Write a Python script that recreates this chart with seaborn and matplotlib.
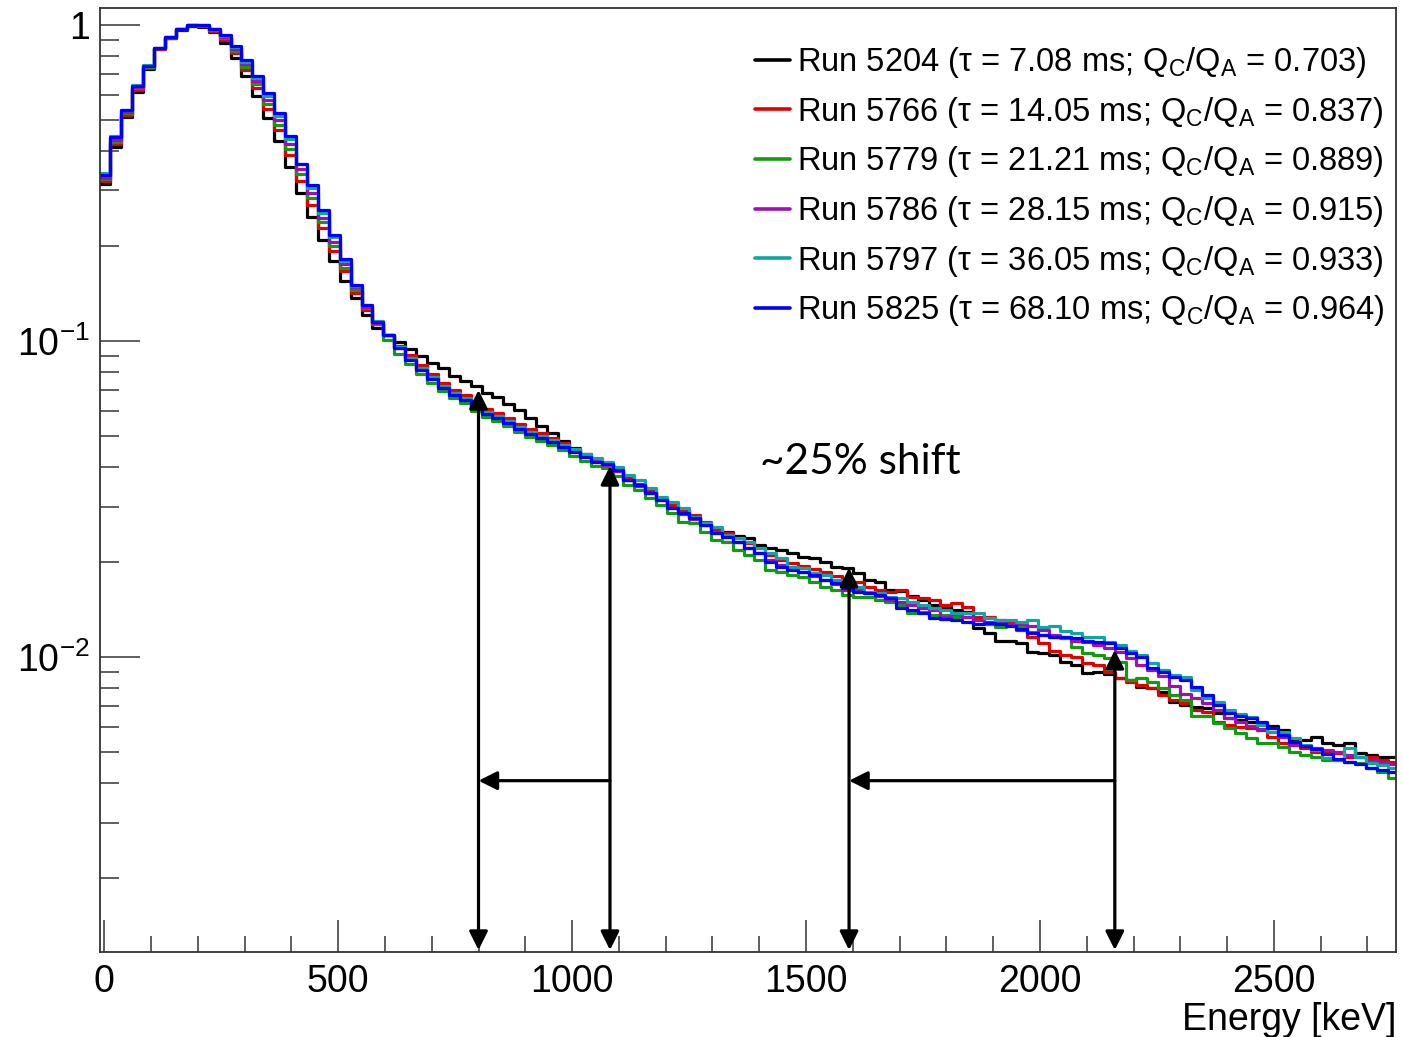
import numpy as np
import pandas as pd
import matplotlib
matplotlib.use("Agg")
import matplotlib.pyplot as plt
from matplotlib.lines import Line2D
from matplotlib.ticker import MultipleLocator, LogLocator, FixedLocator, FixedFormatter, NullFormatter
import seaborn as sns

# ---------------- data (normalised spectra, 23.33 keV bins starting at -10 keV) ----------------
bin_low = -10.0
bin_width = 23.33

run_5204 = [
    0.315, 0.412, 0.513, 0.615, 0.727, 0.841, 0.912, 0.966, 0.995, 0.988,
    0.952, 0.879, 0.788, 0.691, 0.598, 0.509, 0.430, 0.356, 0.295, 0.248,
    0.209, 0.180, 0.155, 0.137, 0.121, 0.110, 0.105, 0.0995, 0.0945, 0.0899,
    0.0854, 0.0823, 0.0777, 0.0749, 0.0722, 0.0686, 0.0666, 0.0633, 0.0606, 0.0572,
    0.0540, 0.0513, 0.0484, 0.0460, 0.0440, 0.0418, 0.0409, 0.0389, 0.0364, 0.0351,
    0.0333, 0.0319, 0.0303, 0.0290, 0.0278, 0.0266, 0.0255, 0.0249, 0.0242, 0.0239,
    0.0227, 0.0222, 0.0219, 0.0214, 0.0208, 0.0206, 0.0200, 0.0193, 0.0192, 0.0185,
    0.0176, 0.0173, 0.0163, 0.0162, 0.0156, 0.0152, 0.0146, 0.0144, 0.0141, 0.0139,
    0.0124, 0.0119, 0.0113, 0.0113, 0.0111, 0.0104, 0.0103, 0.0102, 0.00966, 0.00945,
    0.00892, 0.00899, 0.00885, 0.00860, 0.00848, 0.00805, 0.00800, 0.00777, 0.00722, 0.00706,
    0.00696, 0.00691, 0.00666, 0.00643, 0.00633, 0.00624, 0.00615, 0.00606, 0.00589, 0.00547,
    0.00547, 0.00560, 0.00536, 0.00528, 0.00536, 0.00498, 0.00491, 0.00484, 0.00484]

run_5766 = [
    0.322, 0.421, 0.520, 0.624, 0.733, 0.841, 0.912, 0.973, 1.000, 0.995,
    0.959, 0.899, 0.817, 0.722, 0.633, 0.543, 0.466, 0.389, 0.322, 0.270,
    0.228, 0.193, 0.167, 0.142, 0.126, 0.113, 0.105, 0.0966, 0.0905, 0.0841,
    0.0788, 0.0738, 0.0701, 0.0676, 0.0638, 0.0611, 0.0593, 0.0572, 0.0547, 0.0528,
    0.0513, 0.0494, 0.0477, 0.0456, 0.0437, 0.0421, 0.0412, 0.0394, 0.0369, 0.0354,
    0.0336, 0.0319, 0.0303, 0.0293, 0.0282, 0.0268, 0.0255, 0.0248, 0.0239, 0.0230,
    0.0222, 0.0211, 0.0203, 0.0199, 0.0195, 0.0190, 0.0186, 0.0181, 0.0176, 0.0173,
    0.0167, 0.0163, 0.0161, 0.0163, 0.0155, 0.0154, 0.0152, 0.0146, 0.0149, 0.0144,
    0.0134, 0.0134, 0.0131, 0.0128, 0.0122, 0.0116, 0.0111, 0.0105, 0.0102, 0.0100,
    0.00959, 0.00945, 0.00899, 0.00860, 0.00835, 0.00817, 0.00800, 0.00760, 0.00733, 0.00717,
    0.00681, 0.00671, 0.00624, 0.00611, 0.00602, 0.00598, 0.00589, 0.00560, 0.00536, 0.00536,
    0.00516, 0.00502, 0.00502, 0.00498, 0.00484, 0.00484, 0.00484, 0.00473, 0.00466]

run_5779 = [
    0.326, 0.427, 0.528, 0.633, 0.738, 0.848, 0.918, 0.973, 1.000, 1.000,
    0.966, 0.912, 0.829, 0.738, 0.652, 0.564, 0.484, 0.406, 0.339, 0.284,
    0.239, 0.200, 0.171, 0.145, 0.127, 0.113, 0.101, 0.0912, 0.0848, 0.0788,
    0.0738, 0.0696, 0.0662, 0.0638, 0.0602, 0.0576, 0.0560, 0.0540, 0.0516, 0.0498,
    0.0484, 0.0470, 0.0453, 0.0434, 0.0418, 0.0403, 0.0397, 0.0375, 0.0351, 0.0339,
    0.0319, 0.0303, 0.0286, 0.0268, 0.0266, 0.0249, 0.0235, 0.0232, 0.0219, 0.0211,
    0.0203, 0.0189, 0.0186, 0.0182, 0.0180, 0.0173, 0.0167, 0.0163, 0.0158, 0.0155,
    0.0155, 0.0152, 0.0150, 0.0146, 0.0138, 0.0139, 0.0136, 0.0136, 0.0134, 0.0134,
    0.0131, 0.0127, 0.0125, 0.0127, 0.0125, 0.0120, 0.0118, 0.0116, 0.0115, 0.0108,
    0.0103, 0.0102, 0.00995, 0.00966, 0.00848, 0.00860, 0.00835, 0.00800, 0.00760, 0.00733,
    0.00652, 0.00652, 0.00620, 0.00598, 0.00576, 0.00556, 0.00536, 0.00536, 0.00520, 0.00502,
    0.00491, 0.00484, 0.00473, 0.00473, 0.00466, 0.00463, 0.00446, 0.00434, 0.00415]

run_5786 = [
    0.329, 0.434, 0.532, 0.638, 0.745, 0.848, 0.918, 0.973, 1.000, 0.995,
    0.973, 0.918, 0.841, 0.754, 0.666, 0.580, 0.502, 0.421, 0.351, 0.295,
    0.246, 0.206, 0.176, 0.148, 0.128, 0.114, 0.105, 0.0952, 0.0879, 0.0817,
    0.0765, 0.0717, 0.0681, 0.0657, 0.0620, 0.0593, 0.0576, 0.0556, 0.0532, 0.0513,
    0.0498, 0.0484, 0.0466, 0.0449, 0.0434, 0.0418, 0.0406, 0.0389, 0.0364, 0.0348,
    0.0331, 0.0315, 0.0297, 0.0284, 0.0274, 0.0262, 0.0249, 0.0240, 0.0232, 0.0222,
    0.0214, 0.0203, 0.0196, 0.0190, 0.0186, 0.0181, 0.0176, 0.0170, 0.0163, 0.0163,
    0.0160, 0.0156, 0.0152, 0.0150, 0.0146, 0.0143, 0.0141, 0.0134, 0.0137, 0.0134,
    0.0131, 0.0129, 0.0128, 0.0127, 0.0127, 0.0126, 0.0122, 0.0118, 0.0116, 0.0113,
    0.0112, 0.0109, 0.0107, 0.0104, 0.00995, 0.00945, 0.00912, 0.00873, 0.00811, 0.00765,
    0.00745, 0.00717, 0.00681, 0.00643, 0.00624, 0.00606, 0.00593, 0.00580, 0.00560, 0.00528,
    0.00524, 0.00516, 0.00509, 0.00502, 0.00491, 0.00484, 0.00473, 0.00466, 0.00460]

run_5797 = [
    0.341, 0.446, 0.540, 0.647, 0.749, 0.848, 0.918, 0.973, 1.000, 1.000,
    0.973, 0.925, 0.854, 0.765, 0.681, 0.598, 0.516, 0.437, 0.364, 0.306,
    0.255, 0.213, 0.180, 0.150, 0.130, 0.116, 0.105, 0.0959, 0.0885, 0.0823,
    0.0771, 0.0722, 0.0686, 0.0662, 0.0624, 0.0598, 0.0580, 0.0560, 0.0536, 0.0516,
    0.0502, 0.0487, 0.0470, 0.0456, 0.0440, 0.0427, 0.0415, 0.0400, 0.0377, 0.0364,
    0.0344, 0.0322, 0.0310, 0.0297, 0.0278, 0.0266, 0.0258, 0.0244, 0.0239, 0.0232,
    0.0222, 0.0214, 0.0206, 0.0193, 0.0192, 0.0185, 0.0182, 0.0176, 0.0170, 0.0167,
    0.0161, 0.0160, 0.0155, 0.0154, 0.0150, 0.0146, 0.0143, 0.0141, 0.0138, 0.0138,
    0.0138, 0.0133, 0.0131, 0.0131, 0.0129, 0.0131, 0.0125, 0.0126, 0.0121, 0.0119,
    0.0116, 0.0116, 0.0112, 0.0109, 0.0105, 0.0102, 0.00959, 0.00912, 0.00879, 0.00866,
    0.00788, 0.00745, 0.00722, 0.00681, 0.00662, 0.00647, 0.00611, 0.00580, 0.00580, 0.00556,
    0.00528, 0.00509, 0.00480, 0.00473, 0.00516, 0.00484, 0.00463, 0.00456, 0.00446]

run_5825 = [
    0.336, 0.443, 0.540, 0.643, 0.745, 0.848, 0.918, 0.973, 1.000, 1.000,
    0.973, 0.932, 0.860, 0.777, 0.691, 0.611, 0.528, 0.446, 0.365, 0.312,
    0.260, 0.217, 0.182, 0.151, 0.130, 0.115, 0.105, 0.0952, 0.0873, 0.0811,
    0.0760, 0.0711, 0.0676, 0.0652, 0.0615, 0.0589, 0.0572, 0.0551, 0.0528, 0.0509,
    0.0494, 0.0480, 0.0463, 0.0446, 0.0430, 0.0415, 0.0409, 0.0392, 0.0364, 0.0351,
    0.0331, 0.0315, 0.0297, 0.0286, 0.0276, 0.0262, 0.0248, 0.0240, 0.0232, 0.0222,
    0.0214, 0.0200, 0.0193, 0.0189, 0.0186, 0.0182, 0.0176, 0.0172, 0.0166, 0.0161,
    0.0160, 0.0158, 0.0154, 0.0143, 0.0141, 0.0138, 0.0133, 0.0132, 0.0131, 0.0129,
    0.0127, 0.0128, 0.0127, 0.0126, 0.0123, 0.0119, 0.0118, 0.0116, 0.0116, 0.0115,
    0.0113, 0.0112, 0.0111, 0.0107, 0.0103, 0.0100, 0.00925, 0.00899, 0.00866, 0.00848,
    0.00805, 0.00760, 0.00706, 0.00666, 0.00652, 0.00643, 0.00624, 0.00598, 0.00568, 0.00540,
    0.00524, 0.00513, 0.00494, 0.00477, 0.00466, 0.00460, 0.00446, 0.00440, 0.00434]

series = [run_5204, run_5766, run_5779, run_5786, run_5797, run_5825]
labels = [
    "Run 5204 (τ = 7.08 ms; Q$_\\mathregular{C}$/Q$_\\mathregular{A}$ = 0.703)",
    "Run 5766 (τ = 14.05 ms; Q$_\\mathregular{C}$/Q$_\\mathregular{A}$ = 0.837)",
    "Run 5779 (τ = 21.21 ms; Q$_\\mathregular{C}$/Q$_\\mathregular{A}$ = 0.889)",
    "Run 5786 (τ = 28.15 ms; Q$_\\mathregular{C}$/Q$_\\mathregular{A}$ = 0.915)",
    "Run 5797 (τ = 36.05 ms; Q$_\\mathregular{C}$/Q$_\\mathregular{A}$ = 0.933)",
    "Run 5825 (τ = 68.10 ms; Q$_\\mathregular{C}$/Q$_\\mathregular{A}$ = 0.964)",
]
colors = ["#000000", "#e00000", "#139a13", "#a010b0", "#10a5a5", "#0000ff"]

x_ticks = [0, 500, 1000, 1500, 2000, 2500]
y_ticks = [1, 0.1, 0.01]
y_tick_labels = ["1", r"$\mathregular{10^{-1}}$", r"$\mathregular{10^{-2}}$"]

# arrow annotations (energy in keV, heights in normalised counts)
arrow_energies = [800, 1081, 1592, 2160]
arrow_tops = [0.0701, 0.0403, 0.0192, 0.01055]
arrow_bottom = 0.001185
shift_pairs = [(1081, 800), (2160, 1592)]
shift_level = 0.00407
shift_text = "~25% shift"

# ---------------- plotting ----------------
sns.set_theme(style="white")
plt.rcParams["font.family"] = ["Liberation Sans", "DejaVu Sans"]
plt.rcParams["mathtext.fontset"] = "custom"
plt.rcParams["mathtext.rm"] = "Liberation Sans"
plt.rcParams["mathtext.it"] = "Liberation Sans:italic"
plt.rcParams["text.color"] = "black"
plt.rcParams["axes.labelcolor"] = "black"

W, H = 1403, 1037
fig = plt.figure(figsize=(W / 100, H / 100), dpi=100)
ax = fig.add_axes([100 / W, 1 - 952 / H, (1396 - 100) / W, (952 - 7.5) / H])

n_bins = len(run_5204)
edges = bin_low + bin_width * np.arange(n_bins + 1)
centers = 0.5 * (edges[:-1] + edges[1:])
edge_list = [float(e) for e in edges]

rows = []
for lab, vals in zip(labels, series):
    for c, v in zip(centers, vals):
        rows.append({"energy": c, "value": v, "run": lab})
df = pd.DataFrame(rows)

for lab, col in zip(labels, colors):
    sub = df[df["run"] == lab]
    sns.histplot(data=sub, x="energy", weights="value", bins=edge_list,
                 element="step", fill=False, color=col, linewidth=2.3, ax=ax)

ax.set_yscale("log")
ax.set_xlim(-9, 2761)
ax.set_ylim(0.001168, 1.138)
ax.set_ylabel("")

ax.xaxis.set_major_locator(FixedLocator(x_ticks))
ax.xaxis.set_minor_locator(MultipleLocator(100))
ax.set_xticklabels([str(t) for t in x_ticks])
ax.yaxis.set_major_locator(FixedLocator(y_ticks))
ax.yaxis.set_major_formatter(FixedFormatter(y_tick_labels))
ax.yaxis.set_minor_locator(LogLocator(base=10, subs=np.arange(2, 10)))
ax.yaxis.set_minor_formatter(NullFormatter())

tick_col = "#333333"
ax.tick_params(axis="x", which="major", direction="in", length=23, width=1.1,
               labelsize=27, pad=9, bottom=True, top=False, color=tick_col,
               labelcolor="black")
ax.tick_params(axis="x", which="minor", direction="in", length=11.5, width=1.1,
               bottom=True, top=False, color=tick_col)
ax.tick_params(axis="y", which="major", direction="in", length=28.5, width=1.1,
               labelsize=27, pad=7, left=True, right=False, color=tick_col,
               labelcolor="black")
ax.tick_params(axis="y", which="minor", direction="in", length=13.7, width=1.1,
               left=True, right=False, color=tick_col)
for sp in ax.spines.values():
    sp.set_linewidth(1.3)
    sp.set_color(tick_col)
    sp.set_visible(True)

ax.set_xlabel("Energy [keV]", fontsize=27, loc="right", color="black")
ax.xaxis.set_label_coords(1.0, -0.053)

# legend
handles = [Line2D([], [], color=c, lw=2.6) for c in colors]
leg = ax.legend(handles, labels, loc="upper left",
                bbox_to_anchor=(755 / W, 1 - 45 / H), bbox_transform=fig.transFigure,
                frameon=False, fontsize=23.5, handlelength=1.07, handletextpad=0.22,
                labelspacing=0.45, borderpad=0, borderaxespad=0)
for t in leg.get_texts():
    t.set_color("black")

# arrows
arrow_kw = dict(color="black", lw=2.3, shrinkA=0, shrinkB=0, mutation_scale=28)
for e, top in zip(arrow_energies, arrow_tops):
    ax.annotate("", xy=(e, top), xytext=(e, arrow_bottom),
                arrowprops=dict(arrowstyle="<|-|>", **arrow_kw))
for e_from, e_to in shift_pairs:
    ax.annotate("", xy=(e_to, shift_level), xytext=(e_from, shift_level),
                arrowprops=dict(arrowstyle="-|>", **arrow_kw))

ax.text(1402, 0.0415, shift_text, fontsize=30.5, family=["Lato", "DejaVu Sans"],
        ha="left", va="center", color="black")

fig.savefig("out.png", dpi=100)
